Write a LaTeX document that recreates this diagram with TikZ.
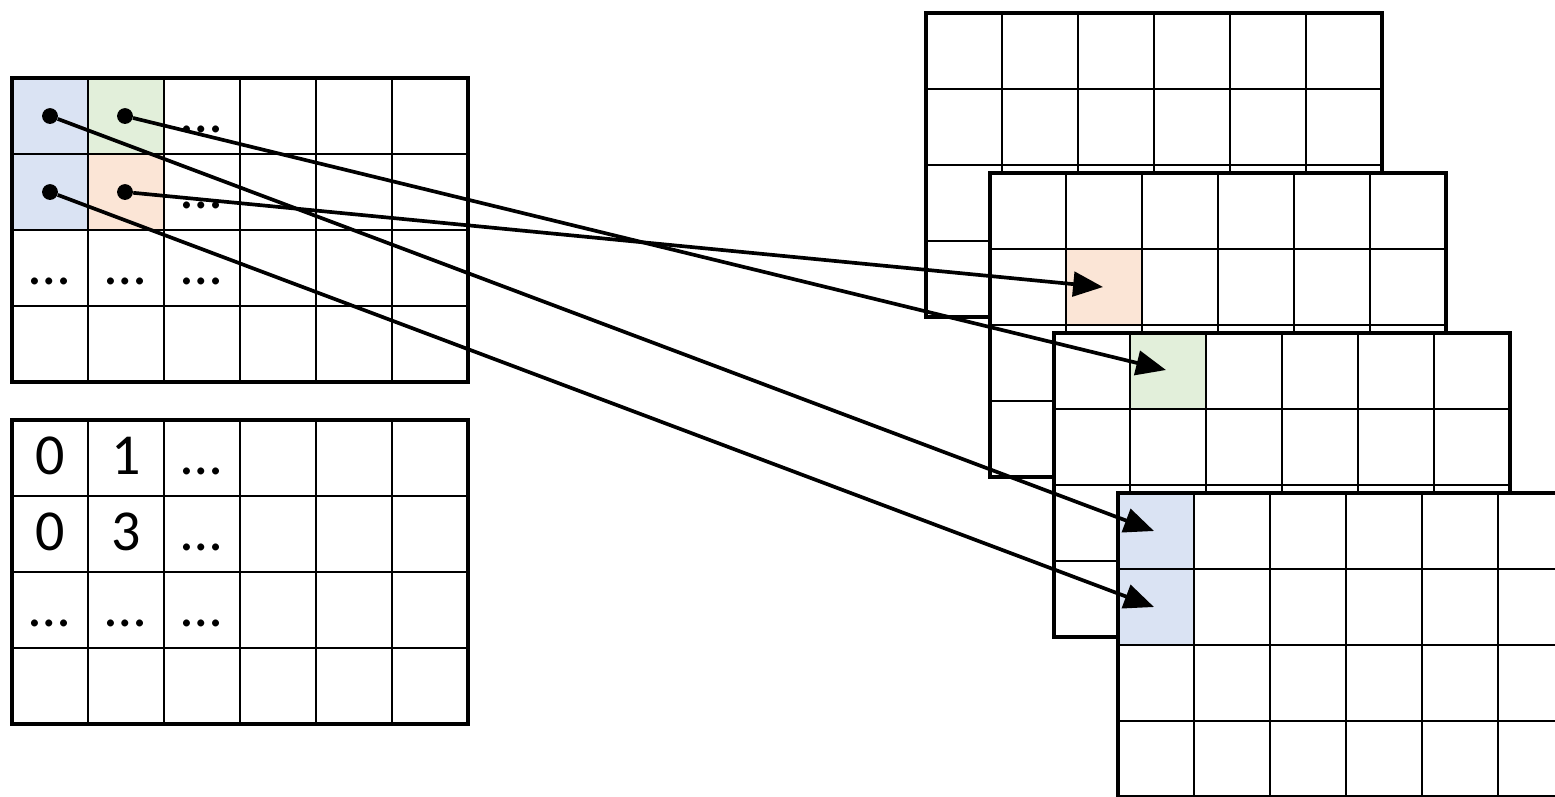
\documentclass[tikz,border=0pt]{standalone}
\usepackage{fontspec}
\setmainfont{Carlito}
\usetikzlibrary{arrows.meta, positioning, calc}
\definecolor{cellblue}{RGB}{218,227,243}
\definecolor{cellgreen}{RGB}{226,239,218}
\definecolor{cellorange}{RGB}{251,229,214}

% 6 x 4 grid of 76-unit cells, drawn in the current scope
\newcommand{\gridlines}{%
  \foreach \c in {1,...,5} \draw[innerline] (\c*76,0) -- (\c*76,304);
  \foreach \r in {1,2,3} \draw[innerline] (0,\r*76) -- (456,\r*76);
  \draw[outerline] (0,0) rectangle (456,304);
}

\begin{document}
\begin{tikzpicture}[
    x=0.02cm, y=-0.02cm,
    >={Triangle[length=17pt, width=14pt]},
    innerline/.style={line width=1.5pt},
    outerline/.style={line width=2.5pt, line join=miter},
    celltext/.style={font=\fontsize{33}{35}\selectfont, inner sep=0pt,
        text height=19pt, text depth=0pt},
    dot/.style={circle, fill=black, inner sep=0pt, minimum size=9pt},
    link/.style={->, line width=2.1pt},
]
\useasboundingbox (0,0) rectangle (1555,796);
\clip (0,0) rectangle (1555,796);

% === INPUT GRID (top left) ===
\begin{scope}[shift={(12,78)}]
  \fill[white] (0,0) rectangle (456,304);
  \fill[cellblue] (0,0) rectangle (76,152);
  \fill[cellgreen] (76,0) rectangle (152,76);
  \fill[cellorange] (76,76) rectangle (152,152);
  \gridlines
  \node[celltext] (in13) at (190,38) {…};
  \node[celltext] (in23) at (190,114) {…};
  \node[celltext] (in31) at (38,190) {…};
  \node[celltext] (in32) at (114,190) {…};
  \node[celltext] (in33) at (190,190) {…};
  % source points
  \node[dot] (srcblueA) at (38,38) {};
  \node[dot] (srcgreen) at (113,38) {};
  \node[dot] (srcblueB) at (38,114) {};
  \node[dot] (srcorange) at (113,114) {};
\end{scope}

% === INDEX GRID (bottom left) ===
\begin{scope}[shift={(12,420)}]
  \fill[white] (0,0) rectangle (456,304);
  \gridlines
  \node[celltext] (ix11) at (38,38) {0};
  \node[celltext] (ix12) at (114,38) {1};
  \node[celltext] (ix13) at (190,38) {…};
  \node[celltext] (ix21) at (38,114) {0};
  \node[celltext] (ix22) at (114,114) {3};
  \node[celltext] (ix23) at (190,114) {…};
  \node[celltext] (ix31) at (38,190) {…};
  \node[celltext] (ix32) at (114,190) {…};
  \node[celltext] (ix33) at (190,190) {…};
\end{scope}

% === OUTPUT STACK (right side) ===
\begin{scope}[shift={(926,13)}]
  \fill[white] (0,0) rectangle (456,304);
  \gridlines
\end{scope}

\begin{scope}[shift={(990,173)}]
  \fill[white] (0,0) rectangle (456,304);
  \fill[cellorange] (76,76) rectangle (152,152);
  \gridlines
  \coordinate (dstorange) at (113,114);
\end{scope}

\begin{scope}[shift={(1054,333)}]
  \fill[white] (0,0) rectangle (456,304);
  \fill[cellgreen] (76,0) rectangle (152,76);
  \gridlines
  \coordinate (dstgreen) at (112,37);
\end{scope}

\begin{scope}[shift={(1118,493)}]
  \fill[white] (0,0) rectangle (456,304);
  \fill[cellblue] (0,0) rectangle (76,152);
  \gridlines
  \coordinate (dstblueA) at (36,38);
  \coordinate (dstblueB) at (36,114);
\end{scope}

% === MAPPING ARROWS ===
\draw[link] (srcblueA) -- (dstblueA);
\draw[link] (srcgreen) -- (dstgreen);
\draw[link] (srcblueB) -- (dstblueB);
\draw[link] (srcorange) -- (dstorange);

\end{tikzpicture}
\end{document}
